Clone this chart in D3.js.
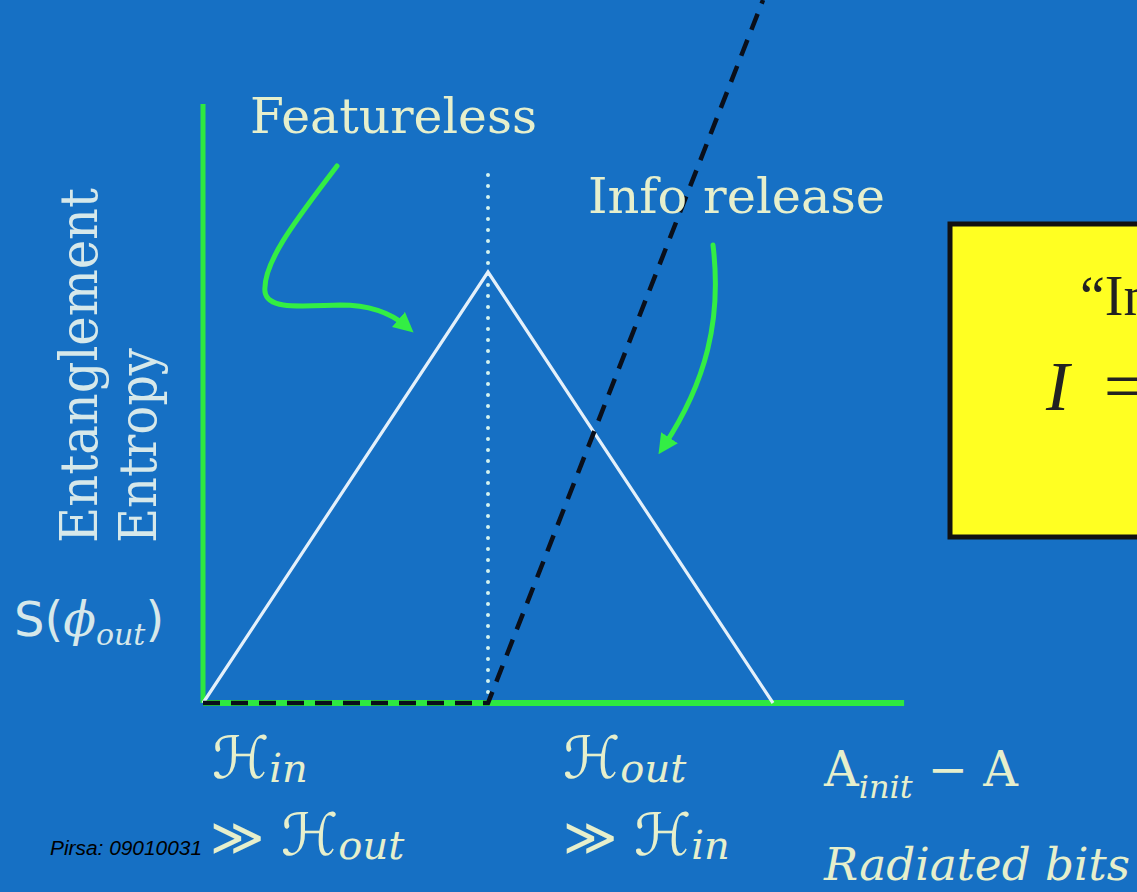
<!DOCTYPE html>
<html><head><meta charset="utf-8">
<script src="https://cdn.jsdelivr.net/npm/d3@7"></script>
<style>html,body{margin:0;padding:0;background:#1670c4;overflow:hidden}</style>
</head><body><svg id="c" width="1137" height="892"></svg>
<script>
// ---- data ----
const pageX = [0, 1, 2];          // Page curve (white triangle)
const pageY = [0, 1, 0];
const naiveX = [0, 1, 1.965];     // naive (Hawking) entropy, black dashed
const naiveY = [0, 0, 1.631];
const dotX = [1, 1];              // midpoint marker (dotted)
const dotY = [0, 1.24];
const axisXMax = 2.46;
const axisYMax = 1.39;
const titleLabels = ["Featureless", "Info release"];
const yAxisLabels = ["Entanglement", "Entropy"];
const yTickLabel = ["S(", "\u03D5", "out", ")"];
const xLeftLabels = [["", "\u210B", "in"], ["\u226B ", "\u210B", "out"]];
const xRightLabels = [["", "\u210B", "out"], ["\u226B ", "\u210B", "in"]];
const xAxisLabels = [["A", "init", " \u2212 A"], ["Radiated bits"]];
const boxLines = ["\u201CIn", "I", "="];
const credit = "Pirsa: 09010031";

// ---- scales ----
const x = d3.scaleLinear().domain([0, 2]).range([203, 773]);
const y = d3.scaleLinear().domain([0, 1]).range([703, 272]);
const svg = d3.select("#c");
const W = 1137, H = 892;

svg.append("rect").attr("width", W).attr("height", H).attr("fill", "#1670c4");

const defs = svg.append("defs");
defs.append("clipPath").attr("id", "clip").append("rect").attr("width", W).attr("height", H);
defs.append("marker").attr("id", "ah").attr("viewBox", "0 0 10 10").attr("refX", 5).attr("refY", 5)
  .attr("markerWidth", 4).attr("markerHeight", 4).attr("orient", "auto")
  .append("path").attr("d", "M0,0L10,5L0,10z").attr("fill", "#33ee44");

const line = d3.line().x(d => x(d[0])).y(d => y(d[1]));
const txtCol = "#e6efcc";
const serif = "'DejaVu Serif', 'Liberation Serif', serif";
const times = "'Liberation Serif', serif";

// yellow box (cut off at right, as in the slide)
svg.append("rect").attr("x", 950).attr("y", 224).attr("width", 220).attr("height", 313)
  .attr("fill", "#ffff22").attr("stroke", "#111").attr("stroke-width", 5);
svg.append("text").attr("x", 1080).attr("y", 315).attr("font-family", times)
  .attr("font-size", 56).attr("fill", "#222").text(boxLines[0]);
svg.append("text").attr("x", 1046).attr("y", 410).attr("font-family", times)
  .attr("font-size", 70).attr("font-style", "italic").attr("fill", "#222").text(boxLines[1]);
svg.append("text").attr("x", 1104).attr("y", 410).attr("font-family", times)
  .attr("font-size", 70).attr("fill", "#222").text(boxLines[2]);

// axes
svg.append("path").attr("d", line([[0, 0], [axisXMax, 0]]))
  .attr("stroke", "#2ee840").attr("stroke-width", 6).attr("fill", "none");
svg.append("path").attr("d", line([[0, 0], [0, axisYMax]]))
  .attr("stroke", "#2ee840").attr("stroke-width", 5).attr("fill", "none");

// dotted midpoint line
svg.append("path").attr("d", line(d3.zip(dotX, dotY)))
  .attr("stroke", "#d4f4f0").attr("stroke-width", 4).attr("stroke-linecap", "round")
  .attr("stroke-dasharray", "0,11").attr("fill", "none");

// page curve
svg.append("path").attr("d", line(d3.zip(pageX, pageY)))
  .attr("stroke", "#e4f0fa").attr("stroke-width", 3.2).attr("fill", "none");

// naive dashed line
svg.append("path").attr("d", line(d3.zip(naiveX, naiveY))).attr("clip-path", "url(#clip)")
  .attr("stroke", "#0a0f1a").attr("stroke-width", 4.5).attr("stroke-dasharray", "17,11")
  .attr("fill", "none");

// green arrows
svg.append("path")
  .attr("d", "M337,166 C300,215 262,262 265,292 C268,310 300,306 340,305 C372,305 392,314 406,326")
  .attr("stroke", "#33ee44").attr("stroke-width", 5).attr("fill", "none")
  .attr("stroke-linecap", "round").attr("marker-end", "url(#ah)");
svg.append("path")
  .attr("d", "M713,245 C722,320 706,382 664,446")
  .attr("stroke", "#33ee44").attr("stroke-width", 5).attr("fill", "none")
  .attr("stroke-linecap", "round").attr("marker-end", "url(#ah)");

// titles
svg.append("text").attr("x", 250).attr("y", 133).attr("font-family", serif).attr("font-size", 48)
  .attr("fill", txtCol).attr("textLength", 287).attr("lengthAdjust", "spacingAndGlyphs").text(titleLabels[0]);
svg.append("text").attr("x", 588).attr("y", 213).attr("font-family", serif).attr("font-size", 48)
  .attr("fill", txtCol).attr("textLength", 297).attr("lengthAdjust", "spacingAndGlyphs").text(titleLabels[1]);

// y-axis label (rotated)
[[97, 355], [156, 195]].forEach((p, i) => {
  svg.append("text").attr("transform", `translate(${p[0]},543) rotate(-90)`)
    .attr("font-family", serif).attr("font-size", 52).attr("fill", "#d6e8ea")
    .attr("textLength", p[1]).attr("lengthAdjust", "spacingAndGlyphs").text(yAxisLabels[i]);
});

// S(phi_out)
const s = svg.append("text").attr("x", 14).attr("y", 636).attr("font-family", serif)
  .attr("font-size", 48).attr("fill", "#d6e8ea");
s.append("tspan").attr("font-family", "'DejaVu Sans', sans-serif").text(yTickLabel[0]);
s.append("tspan").attr("font-style", "italic").text(yTickLabel[1]);
s.append("tspan").attr("font-style", "italic").attr("font-size", 30).attr("dy", 9).text(yTickLabel[2]);
s.append("tspan").attr("dy", -9).attr("font-family", "'DejaVu Sans', sans-serif").text(yTickLabel[3]);

// H labels
function hLabel(x0, y0, parts) {
  const t = svg.append("text").attr("x", x0).attr("y", y0).attr("font-family", serif)
    .attr("font-size", 52).attr("fill", txtCol).attr("xml:space", "preserve");
  if (parts[0]) t.append("tspan").attr("font-family", "'DejaVu Sans', sans-serif").text(parts[0]);
  t.append("tspan").attr("font-family", "'DejaVu Sans', sans-serif").attr("font-size", 58).text(parts[1]);
  t.append("tspan").attr("font-style", "italic").attr("font-size", 40).attr("dy", 4).text(parts[2]);
}
hLabel(212, 778, xLeftLabels[0]);
hLabel(210, 855, xLeftLabels[1]);
hLabel(563, 778, xRightLabels[0]);
hLabel(563, 855, xRightLabels[1]);

// A_init - A
const a = svg.append("text").attr("x", 824).attr("y", 786).attr("font-family", serif)
  .attr("font-size", 48).attr("fill", txtCol);
a.append("tspan").text(xAxisLabels[0][0]);
a.append("tspan").attr("font-style", "italic").attr("font-size", 32).attr("dy", 12).text(xAxisLabels[0][1]);
a.append("tspan").attr("dy", -12).text(xAxisLabels[0][2]);
svg.append("text").attr("x", 824).attr("y", 880).attr("font-family", serif).attr("font-style", "italic")
  .attr("font-size", 44).attr("fill", txtCol).attr("textLength", 306)
  .attr("lengthAdjust", "spacingAndGlyphs").text(xAxisLabels[1][0]);

// credit
svg.append("text").attr("x", 50).attr("y", 855).attr("font-family", "'Liberation Sans', Arial, sans-serif")
  .attr("font-style", "italic").attr("font-size", 19.5).attr("fill", "#000")
  .attr("textLength", 152).attr("lengthAdjust", "spacingAndGlyphs").text(credit);
</script></body></html>
